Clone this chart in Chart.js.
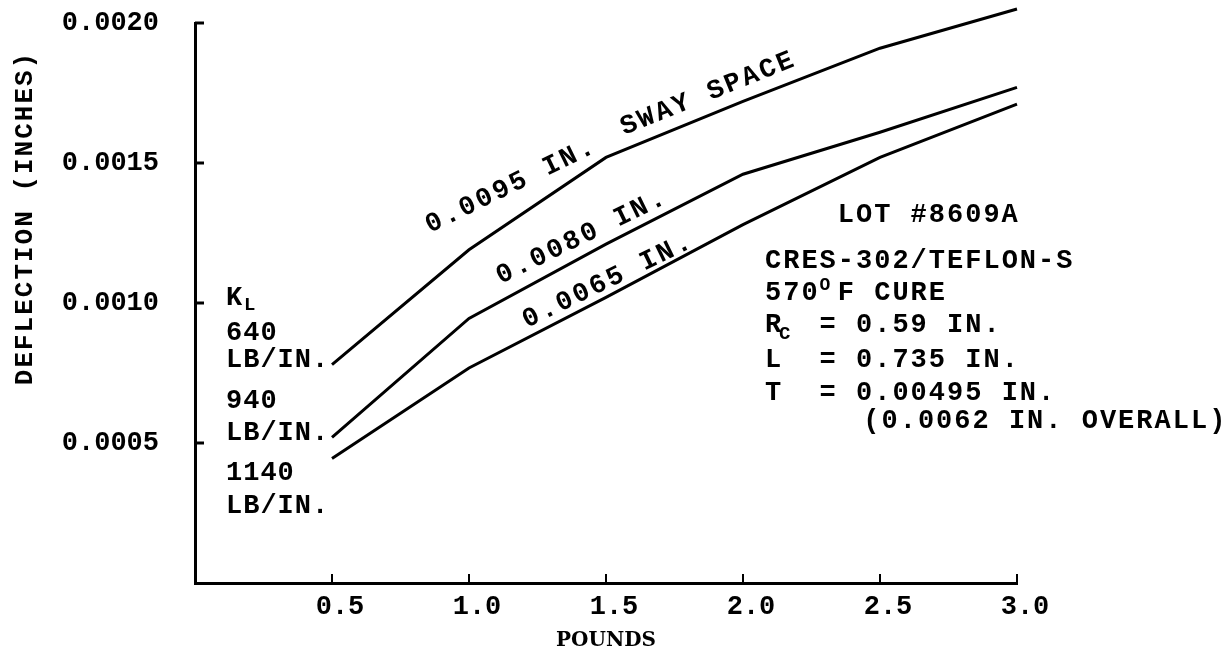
<!DOCTYPE html>
<html>
<head>
<meta charset="utf-8">
<script src="https://cdn.jsdelivr.net/npm/chart.js@4.4.1/dist/chart.umd.min.js"></script>
<style>
  html, body { margin: 0; padding: 0; background: #fff; }
  #wrap { width: 1226px; height: 663px; }
</style>
</head>
<body>
<div id="wrap"><canvas id="chart" width="1226" height="663"></canvas></div>
<script>
// === DATA ===
const pounds = [0.5, 1.0, 1.5, 2.0, 2.5, 3.0];
const sway0095 = [0.00078, 0.00119, 0.00152, 0.00172, 0.00191, 0.00205];
const sway0080 = [0.00052, 0.000945, 0.00121, 0.00146, 0.00161, 0.00177];
const sway0065 = [0.000445, 0.000768, 0.00102, 0.00128, 0.00152, 0.00171];
const xTicks = [0.5, 1.0, 1.5, 2.0, 2.5, 3.0];
const yTicks = [0.0005, 0.0010, 0.0015, 0.0020];

const FONT = "'Liberation Mono', 'DejaVu Sans Mono', monospace";
const toXY = ys => pounds.map((x, i) => ({ x, y: ys[i] }));

// === TEXT + TICK MARKS ===
const notes = {
    id: 'notes',
    afterDraw(chart) {
        const { ctx, scales: { x, y } } = chart;
        ctx.save();
        ctx.fillStyle = '#000';
        ctx.strokeStyle = '#000';

        // inward tick marks
        ctx.lineWidth = 3;
        yTicks.forEach(v => {
            const py = y.getPixelForValue(v);
            ctx.beginPath(); ctx.moveTo(x.left, py); ctx.lineTo(x.left + 9, py); ctx.stroke();
        });
        ctx.lineWidth = 2;
        xTicks.forEach(v => {
            const px = x.getPixelForValue(v);
            ctx.beginPath(); ctx.moveTo(px, y.bottom); ctx.lineTo(px, y.bottom - 9); ctx.stroke();
        });

        const f = s => `bold ${s}px ${FONT}`;
        ctx.textBaseline = 'alphabetic';
        ctx.textAlign = 'left';

        // y axis title
        ctx.save();
        ctx.translate(32, 218);
        ctx.rotate(-Math.PI / 2);
        ctx.font = f(26);
        ctx.letterSpacing = '2px';
        ctx.textAlign = 'center';
        ctx.fillText('DEFLECTION (INCHES)', 0, 0);
        ctx.restore();

        // rotated curve labels
        const along = (txt, vx, vy, deg) => {
            ctx.save();
            ctx.translate(x.getPixelForValue(vx), y.getPixelForValue(vy));
            ctx.rotate(-deg * Math.PI / 180);
            ctx.font = f(27);
            ctx.letterSpacing = '2.5px';
            ctx.textAlign = 'center';
            ctx.fillText(txt, 0, 0);
            ctx.restore();
        };
        along('0.0095 IN.', 1.164, 0.001396, 26);
        along('SWAY SPACE', 1.883, 0.001725, 22);
        along('0.0080 IN.', 1.423, 0.001214, 26);
        along('0.0065 IN.', 1.518, 0.001057, 26);

        // stiffness labels at the left
        ctx.letterSpacing = '1px';
        ctx.font = f(27);
        const lx = 226;
        ctx.fillText('K', lx, 305);
        ctx.font = f(19);
        ctx.fillText('L', lx + 18, 310);
        ctx.font = f(27);
        [['640', 340], ['LB/IN.', 367], ['940', 408], ['LB/IN.', 440], ['1140', 480], ['LB/IN.', 513]]
            .forEach(([t, py]) => ctx.fillText(t, lx, py));

        // specimen block at the right
        ctx.letterSpacing = '2px';
        const rx = 765, cw = 18.2;
        ctx.fillText('LOT #8609A', rx + 4 * cw, 222);
        ctx.fillText('CRES-302/TEFLON-S', rx, 268);
        ctx.fillText('570', rx, 300);
        ctx.font = f(18);
        ctx.fillText('O', rx + 3 * cw, 290);
        ctx.font = f(27);
        ctx.fillText('F CURE', rx + 4 * cw, 300);
        ctx.fillText('R', rx, 332);
        ctx.font = f(19);
        ctx.fillText('C', rx + 14, 339);
        ctx.font = f(27);
        ctx.fillText('= 0.59 IN.', rx + 3 * cw, 332);
        ctx.fillText('L  = 0.735 IN.', rx, 367);
        ctx.fillText('T  = 0.00495 IN.', rx, 400);
        ctx.fillText('(0.0062 IN. OVERALL)', rx + 5.4 * cw, 428);
        ctx.restore();
    }
};

const lineStyle = { borderColor: '#000', borderWidth: 3, pointRadius: 0, tension: 0, fill: false, clip: false };

new Chart(document.getElementById('chart'), {
    type: 'line',
    data: {
        datasets: [
            { label: '0.0095 IN.', data: toXY(sway0095), ...lineStyle },
            { label: '0.0080 IN.', data: toXY(sway0080), ...lineStyle },
            { label: '0.0065 IN.', data: toXY(sway0065), ...lineStyle }
        ]
    },
    options: {
        responsive: false, animation: false,
        layout: { padding: { left: 0, right: 209, top: 23, bottom: 0 } },
        plugins: { legend: { display: false }, tooltip: { enabled: false } },
        scales: {
            x: {
                type: 'linear', min: 0, max: 3.0,
                afterFit: s => { s.height = 80; s.paddingLeft = 0; s.paddingRight = 0; },
                afterBuildTicks: s => { s.ticks = xTicks.map(v => ({ value: v })); },
                grid: { display: false, drawTicks: false },
                border: { display: true, color: '#000', width: 3 },
                ticks: { color: '#000', padding: 8, labelOffset: 8, maxRotation: 0,
                    font: { family: FONT, size: 27, weight: 'bold' },
                    callback: v => v.toFixed(1) },
                title: { display: true, text: 'POUNDS', color: '#000', padding: { top: 0, bottom: 10 },
                    font: { family: "'DejaVu Serif', serif", size: 20, weight: 'bold' } }
            },
            y: {
                type: 'linear', min: 0, max: 0.0020,
                afterFit: s => { s.width = 195; s.paddingTop = 0; s.paddingBottom = 0; },
                afterBuildTicks: s => { s.ticks = yTicks.map(v => ({ value: v })); },
                grid: { display: false, drawTicks: false },
                border: { display: true, color: '#000', width: 3 },
                ticks: { color: '#000', padding: 36, font: { family: FONT, size: 27, weight: 'bold' },
                    callback: v => v.toFixed(4) }
            }
        }
    },
    plugins: [notes]
});
</script>
</body>
</html>
